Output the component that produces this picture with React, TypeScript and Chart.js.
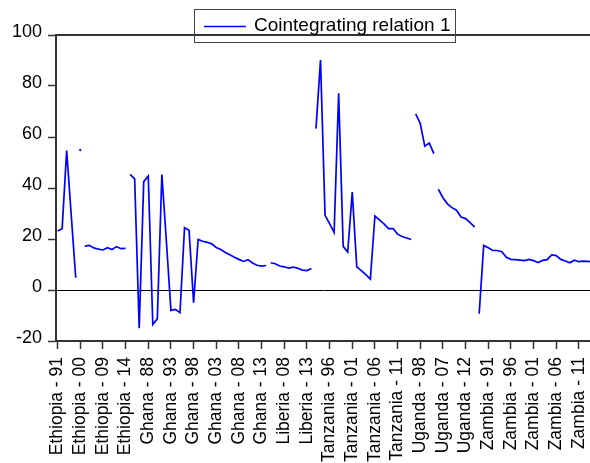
import React, { useEffect, useRef } from 'react';
import { Chart, registerables } from 'chart.js';

Chart.register(...registerables);

// Tick labels, one every 5 observations
const tickLabels = [
  'Ethiopia - 91', 'Ethiopia - 00', 'Ethiopia - 09', 'Ethiopia - 14',
  'Ghana - 88', 'Ghana - 93', 'Ghana - 98', 'Ghana - 03', 'Ghana - 08', 'Ghana - 13',
  'Liberia - 08', 'Liberia - 13',
  'Tanzania - 96', 'Tanzania - 01', 'Tanzania - 06', 'Tanzania - 11',
  'Uganda - 98', 'Uganda - 07', 'Uganda - 12',
  'Zambia - 91', 'Zambia - 96', 'Zambia - 01', 'Zambia - 06', 'Zambia - 11',
];
const TICK_EVERY = 5;

// Series values per cross-section (stacked panel observations)
const ethiopia = [23.1, 24.0, 54.7, 29.5, 4.8, 54.9, 17.2, 17.5, 16.5, 16.0, 15.7, 16.6, 15.9, 17.0, 16.2, 16.3];
const ghana = [
  45.3, 43.6, -15.0, 42.5, 44.7, -13.5, -11.3, 45.3, 19.0, -8.0,
  -7.6, -8.9, 24.4, 23.4, -5.0, 19.8, 19.1, 18.7, 18.1, 16.7,
  15.9, 14.7, 13.8, 12.8, 12.0, 11.2, 11.9, 10.6, 9.7, 9.4, 9.6,
];
const liberia = [10.7, 10.3, 9.4, 9.1, 8.6, 9.0, 8.5, 7.8, 7.6, 8.4];
const tanzania = [
  63.3, 90.2, 29.3, 26.0, 22.6, 77.1, 17.1, 14.9, 38.4, 9.1,
  7.6, 6.0, 4.3, 29.0, 27.5, 25.9, 24.1, 24.1, 21.9, 21.0, 20.4, 19.8,
];
const uganda = [69.1, 65.3, 56.4, 57.6, 53.5, 39.5, 36.2, 33.8, 32.3, 31.3, 28.6, 28.0, 26.4, 24.7];
const zambia = [
  -9.3, 17.5, 16.6, 15.5, 15.5, 15.0, 12.8, 12.0, 11.9, 11.7,
  11.5, 12.0, 11.5, 10.8, 11.6, 11.9, 13.8, 13.5, 12.0, 11.4,
  10.7, 11.7, 11.1, 11.3, 11.2, 11.0,
];
const crossSections = [ethiopia, ghana, liberia, tanzania, uganda, zambia];
// observations after which the line breaks because the years are not consecutive
const yearGapBreaks = [4, 5, 83];

const SERIES_LABEL = 'Cointegrating relation 1';
const BLUE = '#0000ff';
const FRAME = '#333333';
const FONT = '"Liberation Sans", Arial, Helvetica, sans-serif';

export default function App() {
  const canvasRef = useRef<HTMLCanvasElement | null>(null);

  useEffect(() => {
    const canvas = canvasRef.current;
    if (!canvas) return;

    const values: number[] = ([] as number[]).concat(...crossSections);
    const breakSet = new Set<number>(yearGapBreaks);
    let acc = 0;
    crossSections.forEach((cs, k) => {
      acc += cs.length;
      if (k < crossSections.length - 1) breakSet.add(acc - 1);
    });
    const n = values.length;
    const isolated = (i: number) =>
      (i === 0 || breakSet.has(i - 1)) && (i === n - 1 || breakSet.has(i));

    const points = values.map((v, i) => ({ x: i, y: v }));

    const framePlugin = {
      id: 'frameAndLegend',
      beforeDatasetsDraw(chart: any) {
        const { ctx, chartArea: a } = chart;
        ctx.save();
        ctx.strokeStyle = FRAME;
        ctx.lineWidth = 2;
        ctx.beginPath();
        ctx.moveTo(a.left - 1, a.top);
        ctx.lineTo(a.right + 2, a.top);
        ctx.stroke();
        ctx.restore();
      },
      afterDraw(chart: any) {
        const { ctx } = chart;
        ctx.save();
        ctx.strokeStyle = '#444';
        ctx.lineWidth = 1;
        ctx.strokeRect(194.5, 9.5, 261, 33);
        ctx.strokeStyle = BLUE;
        ctx.lineWidth = 1.5;
        ctx.beginPath();
        ctx.moveTo(204, 26.5);
        ctx.lineTo(246, 26.5);
        ctx.stroke();
        ctx.fillStyle = '#000';
        ctx.font = `19px ${FONT}`;
        ctx.textBaseline = 'alphabetic';
        ctx.textAlign = 'left';
        ctx.fillText(chart.data.datasets[0].label, 254, 30.5);
        ctx.restore();
      },
    };

    const chart = new Chart(canvas, {
      type: 'line',
      data: {
        datasets: [
          {
            label: SERIES_LABEL,
            data: points,
            borderColor: BLUE,
            backgroundColor: BLUE,
            borderWidth: 1.7,
            tension: 0,
            pointRadius: (ctx: any) => (isolated(ctx.dataIndex) ? 0.8 : 0),
            pointBorderWidth: 1,
            pointHoverRadius: 0,
            segment: {
              borderColor: (ctx: any) => (breakSet.has(ctx.p0DataIndex) ? 'rgba(0,0,0,0)' : undefined),
            },
          } as any,
        ],
      },
      options: {
        animation: false,
        responsive: false,
        events: [],
        layout: { padding: { top: 35, left: 0, right: 0, bottom: 0 } },
        plugins: {
          legend: { display: false },
          tooltip: { enabled: false },
        },
        scales: {
          x: {
            type: 'linear',
            min: -0.353,
            max: 117.45,
            afterBuildTicks: (scale: any) => {
              scale.ticks = tickLabels.map((_, k) => ({ value: k * TICK_EVERY }));
            },
            afterFit: (scale: any) => {
              scale.height = 122;
              scale.paddingLeft = 0;
              scale.paddingRight = 0;
            },
            grid: {
              drawOnChartArea: false,
              drawTicks: true,
              tickLength: 8,
              tickColor: FRAME,
              tickWidth: 1.5,
            },
            border: { display: true, color: FRAME, width: 2 },
            ticks: {
              autoSkip: false,
              maxRotation: 90,
              minRotation: 90,
              padding: 8,
              color: '#000',
              font: { family: FONT, size: 17.5 },
              callback: (v: any) => tickLabels[Math.round(Number(v) / TICK_EVERY)] ?? '',
            },
          },
          y: {
            min: -20,
            max: 100,
            afterFit: (scale: any) => {
              scale.width = 56;
              scale.paddingTop = 0;
              scale.paddingBottom = 0;
            },
            ticks: {
              stepSize: 20,
              padding: 6,
              color: '#000',
              labelOffset: -3,
              font: { family: FONT, size: 18 },
            },
            grid: {
              drawTicks: true,
              tickLength: 8,
              tickColor: FRAME,
              tickWidth: 1.5,
              lineWidth: 1,
              color: (ctx: any) => (ctx.tick && ctx.tick.value === 0 ? '#000' : 'rgba(0,0,0,0)'),
            },
            border: { display: true, color: FRAME, width: 2 },
          },
        },
      } as any,
      plugins: [framePlugin],
    });

    return () => chart.destroy();
  }, []);

  return (
    <div style={{ position: 'fixed', left: 0, top: 0, width: 590, height: 463, background: '#fff', overflow: 'hidden' }}>
      <canvas ref={canvasRef} width={590} height={463} style={{ display: 'block' }} />
    </div>
  );
}
